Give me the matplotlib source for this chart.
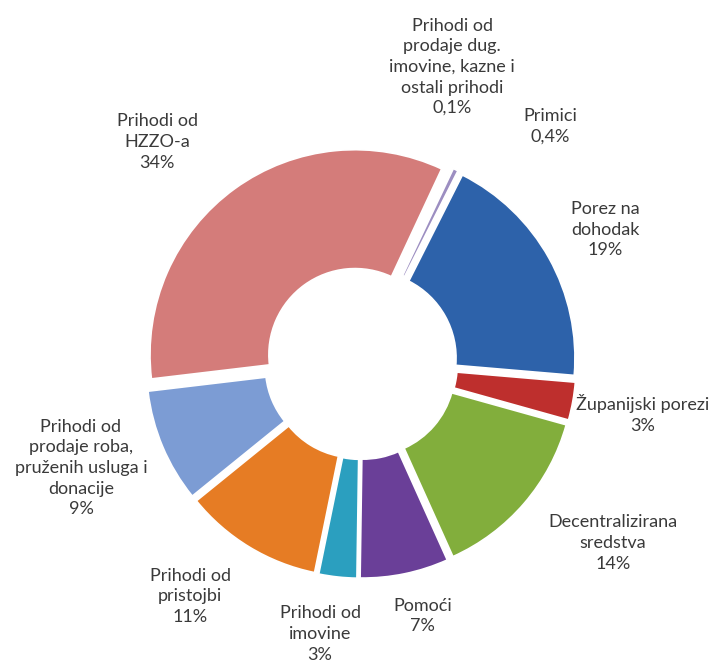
import numpy as np
import matplotlib
matplotlib.use("Agg")
import matplotlib.pyplot as plt

# slices, clockwise starting from "Porez na dohodak"
labels = ["Porez na\ndohodak", "Županijski porezi", "Decentralizirana\nsredstva",
          "Pomoći", "Prihodi od\nimovine", "Prihodi od\npristojbi",
          "Prihodi od\nprodaje roba,\npruženih usluga i\ndonacije",
          "Prihodi od\nHZZO-a",
          "Prihodi od\nprodaje dug.\nimovine, kazne i\nostali prihodi",
          "Primici"]
shares = [19, 3, 14, 7, 3, 11, 9, 34, 0.1, 0.4]
pct_text = ["19%", "3%", "14%", "7%", "3%", "11%", "9%", "34%", "0,1%", "0,4%"]
colors = ["#2D62AA", "#BE2F2D", "#82AE3C", "#6A3F98", "#2B9FBF", "#E67C24",
          "#7C9CD4", "#D47C7A", "#A9C47F", "#9C8EC1"]

# where the labels sit (data units, outer radius = 1)
label_pos = [(1.19, 0.65), (1.376, -0.25), (1.229, -0.878), (0.302, -1.234),
             (-0.2, -1.322), (-0.834, -1.137), (-1.366, -0.512), (-0.995, 1.078),
             (0.444, 1.444), (0.922, 1.156)]

plt.rcParams['font.family'] = ['Lato', 'DejaVu Sans']

fig = plt.figure(figsize=(7.13, 6.69), dpi=100)
ax = fig.add_axes([0, 0, 1, 1])

wedges, _ = ax.pie(shares, colors=colors, startangle=90 - 26.8, counterclock=False,
                   explode=[0.05] * len(shares), radius=1.0,
                   wedgeprops=dict(width=0.58, edgecolor="white", linewidth=1.2))

for i in range(len(labels)):
    x, y = label_pos[i]
    ax.text(x, y, labels[i] + "\n" + pct_text[i], ha="center", va="center",
            fontsize=13, color="#3a3a3a", linespacing=1.35)

ax.set_xlim(-361 / 205, (713 - 361) / 205)
ax.set_ylim(-(669 - 363) / 205, 363 / 205)
ax.set_aspect("equal")
ax.axis("off")

plt.savefig("out.png", dpi=100)
